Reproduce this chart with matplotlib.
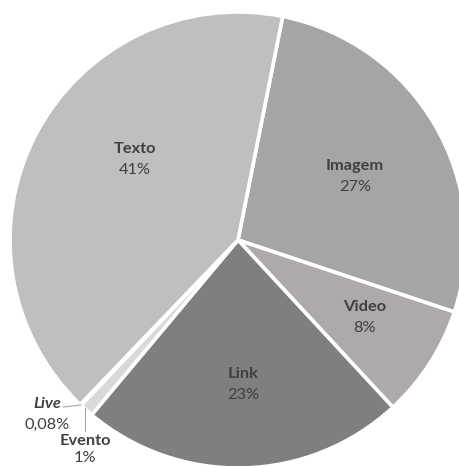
import matplotlib
matplotlib.use("Agg")
import matplotlib.pyplot as plt

# Share of posts by content type
categories = ["Imagem", "Video", "Link", "Evento", "Live", "Texto"]
shares = [27, 8, 23, 1, 0.08, 41]
colors = ["#a5a5a5", "#aeaaaa", "#7f7f7f", "#d9d9d9", "#262626", "#bfbfbf"]
explode = [0.0, 0.0, 0.02, 0.0, 0.0, 0.0]

W, H = 460, 466
fig = plt.figure(figsize=(W / 100, H / 100), dpi=100)
ax = fig.add_axes([0, 0, 1, 1])

def Y(y):
    # convert top-down pixel row to axis y
    return H - y

ax.pie(shares, colors=colors, explode=explode, startangle=78.7,
       counterclock=False, center=(238, Y(240)), radius=228,
       wedgeprops=dict(edgecolor="white", linewidth=2.6))
ax.set_xlim(0, W)
ax.set_ylim(0, H)
ax.set_aspect("equal")
ax.axis("off")

def pct(v):
    s = f"{v:g}%"
    return s.replace(".", ",")

txt_color = "#404040"
font = ["Lato", "DejaVu Sans"]
label_pos = {
    "Texto": (135, 149),
    "Imagem": (355, 166),
    "Video": (365, 307),
    "Link": (243, 374),
    "Live": (47, 404),
    "Evento": (85, 441),
}
for name, v in zip(categories, shares):
    x, y = label_pos[name]
    style = "italic" if name == "Live" else "normal"
    ax.text(x, Y(y), name, ha="center", va="center", fontsize=11.8,
            fontweight="bold", fontstyle=style, color=txt_color, family=font)
    dy = 17 if name == "Evento" else 21
    ax.text(x, Y(y + dy), pct(v), ha="center", va="center", fontsize=11.8,
            color=txt_color, family=font)

# leader lines for the two small slices
ax.plot([63, 81], [Y(407), Y(405)], color="#a6a6a6", lw=0.8)
ax.plot([85, 85], [Y(408), Y(431)], color="#a6a6a6", lw=0.8)

fig.savefig("out.png", dpi=100)
